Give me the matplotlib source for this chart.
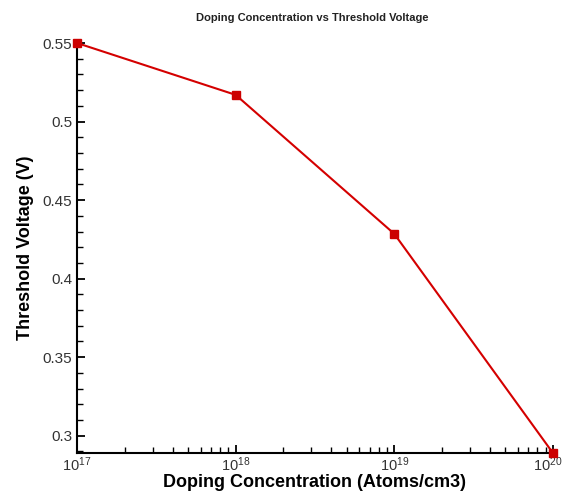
import matplotlib
matplotlib.use("Agg")
import matplotlib.pyplot as plt
import matplotlib.transforms as mtransforms
from matplotlib.ticker import MultipleLocator, LogLocator, NullFormatter

plt.rcParams['font.family'] = ['Liberation Sans', 'DejaVu Sans']
plt.rcParams['mathtext.fontset'] = 'custom'
plt.rcParams['mathtext.rm'] = 'Liberation Sans'

# data
doping = [1e17, 1e18, 1e19, 1e20]
vth = [0.550, 0.517, 0.4285, 0.289]
ytick_vals = [0.3, 0.35, 0.4, 0.45, 0.5, 0.55]
ytick_lbls = ['0.3', '0.35', '0.4', '0.45', '0.5', '0.55']
xtick_lbls = [r'$\mathrm{10^{17}}$', r'$\mathrm{10^{18}}$', r'$\mathrm{10^{19}}$', r'$\mathrm{10^{20}}$']

fig = plt.figure(figsize=(5.63, 4.95), dpi=100)
ax = fig.add_axes([0.137, 0.085, 0.845, 0.828])

ax.plot(doping, vth, color='#d40000', lw=1.5, marker='s', ms=6,
        markeredgecolor='#cc0000', markerfacecolor='#cc0000', clip_on=False, zorder=3)

ax.set_xscale('log')
ax.set_xlim(1e17, 1e20)
ax.set_ylim(0.289, 0.55)

ax.yaxis.set_minor_locator(MultipleLocator(0.01))
ax.set_yticks(ytick_vals)
ax.set_yticklabels(ytick_lbls)
ax.xaxis.set_minor_locator(LogLocator(base=10, subs=range(2, 10)))
ax.xaxis.set_minor_formatter(NullFormatter())
ax.set_xticks(doping)
ax.set_xticklabels(xtick_lbls)

for s in ['top', 'right']:
    ax.spines[s].set_visible(False)
for s in ['left', 'bottom']:
    ax.spines[s].set_linewidth(1.5)

ax.tick_params(which='major', direction='in', length=6, width=1.3, labelsize=11,
               labelcolor='#333333')
ax.tick_params(axis='x', labelsize=10.5)
ax.tick_params(which='minor', direction='in', length=4, width=1)
ax.tick_params(axis='x', pad=2)

# keep the last x label inside the figure
last = ax.get_xticklabels()[-1]
last.set_transform(last.get_transform() +
                   mtransforms.ScaledTranslation(-5 / 100, 0, fig.dpi_scale_trans))

ax.set_xlabel('Doping Concentration (Atoms/cm3)', fontsize=13, fontweight='bold', labelpad=0)
ax.set_ylabel('Threshold Voltage (V)', fontsize=13, fontweight='bold', labelpad=6)
fig.text(0.555, 0.958, 'Doping Concentration vs Threshold Voltage', ha='center',
         fontsize=8, fontweight='bold', color='#222222')

fig.savefig('out.png', dpi=100)
